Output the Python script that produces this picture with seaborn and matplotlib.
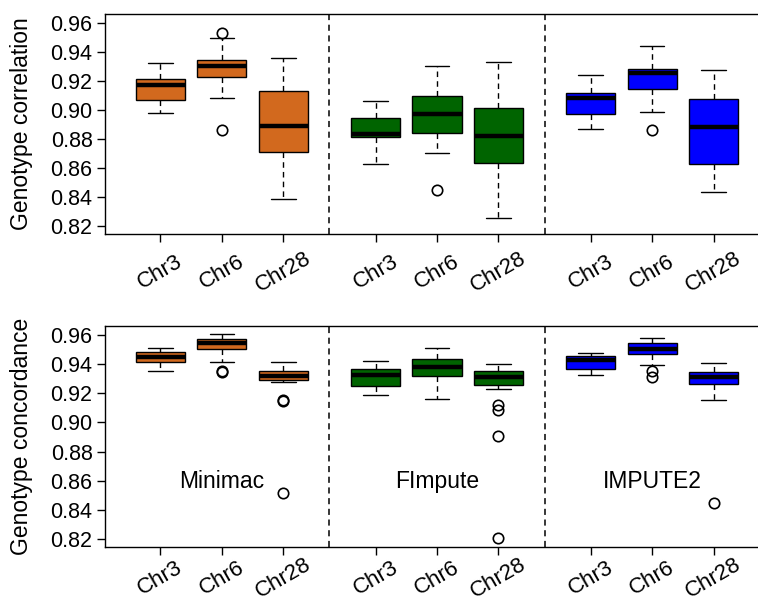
import matplotlib
matplotlib.use("Agg")
import matplotlib.pyplot as plt
import seaborn as sns

# groups and labels
methods = ["Minimac", "FImpute", "IMPUTE2"]
chroms = ["Chr3", "Chr6", "Chr28"]
method_colors = ["#D2691E", "#006400", "#0000FF"]
y_ticks = [0.82, 0.84, 0.86, 0.88, 0.90, 0.92, 0.94, 0.96]

# genotype correlation (Minimac Chr3/6/28, FImpute Chr3/6/28, IMPUTE2 Chr3/6/28)
corr_lo = [0.898, 0.908, 0.839, 0.8628, 0.8704, 0.826, 0.8868, 0.8987, 0.8436]
corr_q1 = [0.907, 0.9227, 0.8713, 0.8813, 0.8845, 0.8635, 0.8975, 0.9145, 0.8632]
corr_med = [0.917, 0.930, 0.889, 0.8838, 0.8973, 0.882, 0.9085, 0.9253, 0.8884]
corr_q3 = [0.921, 0.9344, 0.9133, 0.8946, 0.9099, 0.9012, 0.9116, 0.928, 0.9076]
corr_hi = [0.9325, 0.9497, 0.936, 0.9063, 0.9301, 0.933, 0.9243, 0.9438, 0.9273]
corr_out = [[], [0.953, 0.886], [], [], [0.8447], [], [], [0.8866], []]

# genotype concordance
conc_lo = [0.9352, 0.9411, 0.9279, 0.9185, 0.916, 0.9229, 0.9326, 0.9391, 0.9153]
conc_q1 = [0.9415, 0.950, 0.929, 0.9249, 0.9315, 0.9258, 0.9365, 0.9468, 0.9261]
conc_med = [0.945, 0.9541, 0.9318, 0.9324, 0.9381, 0.9311, 0.9425, 0.9502, 0.9309]
conc_q3 = [0.9482, 0.9573, 0.9354, 0.9367, 0.9434, 0.935, 0.9454, 0.9541, 0.9345]
conc_hi = [0.9507, 0.9607, 0.9411, 0.9418, 0.9507, 0.9402, 0.9473, 0.958, 0.9406]
conc_out = [[], [0.9345, 0.935], [0.9157, 0.915, 0.8515], [],
            [], [0.9117, 0.9083, 0.8905, 0.8209], [], [0.9352, 0.9313], [0.8451]]

sns.set_theme(style="ticks", rc={"text.color": "black", "axes.labelcolor": "black",
                                 "xtick.color": "black", "ytick.color": "black",
                                 "axes.edgecolor": "black"})
plt.rcParams['font.family'] = ['Liberation Sans', 'DejaVu Sans']

positions = [g * 3.5 + i + 1 for g in range(len(methods)) for i in range(len(chroms))]
box_colors = [c for c in method_colors for _ in chroms]


def make_stats(lo, q1, med, q3, hi, out):
    return [dict(whislo=a, q1=b, med=c, q3=d, whishi=e, fliers=f)
            for a, b, c, d, e, f in zip(lo, q1, med, q3, hi, out)]


def draw_panel(ax, stats, ylabel, xpad):
    bp = ax.bxp(stats, positions=positions, widths=0.8, capwidths=0.4,
                patch_artist=True, manage_ticks=False,
                boxprops=dict(edgecolor="black", linewidth=1.0),
                medianprops=dict(color="black", linewidth=3.2, solid_capstyle="butt"),
                whiskerprops=dict(color="black", linewidth=1.0, linestyle=(0, (4, 3))),
                capprops=dict(color="black", linewidth=1.0),
                flierprops=dict(marker="o", markerfacecolor="none", markeredgecolor="black",
                                markersize=7.5, markeredgewidth=1.2))
    for patch, c in zip(bp["boxes"], box_colors):
        patch.set_facecolor(c)

    # dashed separators between methods
    for g in range(1, len(methods)):
        ax.axvline(g * 3.5 + 0.25, color="black", linewidth=1.1, linestyle=(0, (4, 3)))

    ax.set_xlim(0.1, 10.9)
    ax.set_ylim(0.8148, 0.966)
    ax.set_yticks(y_ticks)
    ax.set_yticklabels([f"{v:.2f}" for v in y_ticks], fontsize=15.5)
    ax.set_xticks(positions)
    ax.set_xticklabels(chroms * len(methods), fontsize=16, rotation=30,
                       ha="center", va="center")
    ax.tick_params(axis="both", direction="out", length=6, width=1.0, color="black")
    ax.tick_params(axis="x", pad=xpad)
    ax.tick_params(axis="y", pad=3)
    for s in ax.spines.values():
        s.set_color("black")
        s.set_linewidth(1.0)
    ax.set_ylabel(ylabel, fontsize=16.5)
    ax.yaxis.set_label_coords(-0.108, 0.5)


fig = plt.figure(figsize=(7.58, 6.04), dpi=100)
ax1 = fig.add_axes([105 / 758, 1 - 234 / 604, 664 / 758, 220 / 604])
ax2 = fig.add_axes([105 / 758, 1 - 547 / 604, 664 / 758, 221 / 604])

draw_panel(ax1, make_stats(corr_lo, corr_q1, corr_med, corr_q3, corr_hi, corr_out),
           "Genotype correlation", 21.5)
draw_panel(ax2, make_stats(conc_lo, conc_q1, conc_med, conc_q3, conc_hi, conc_out),
           "Genotype concordance", 16.5)

for g, name in enumerate(methods):
    ax2.text(positions[g * 3 + 1], 0.8595, name, ha="center", va="center", fontsize=16.5)

fig.savefig("out.png", dpi=100)
